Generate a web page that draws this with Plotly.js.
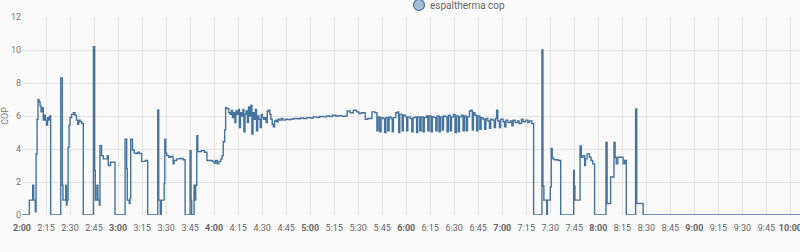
<!DOCTYPE html>
<html>
<head>
<meta charset="utf-8">
<script src="https://cdn.plot.ly/plotly-3.0.1.min.js"></script>
<style>
html,body{margin:0;padding:0;background:#fbfafb;}
#chart{width:800px;height:252px;}
</style>
</head>
<body>
<div id="chart"></div>
<script>
// minutes after 02:00 and COP value (step "hv")
const minutes = [
0,4.6,6.7,7.3,8.3,8.8,9.4,10.0,10.6,11.3,11.9,12.6,13.3,14.0,14.6,15.3,16.0,16.6,17.2,17.9,
24.2,25.2,25.6,27.3,27.8,28.2,28.8,29.4,30.0,31.0,32.1,33.1,34.0,34.8,35.4,36.3,37.3,38.3,
44.6,45.4,45.8,46.8,47.4,48.3,48.7,49.7,50.8,53.3,53.9,55.3,58.1,
64.4,65.4,65.8,67.0,67.5,67.9,69.0,70.1,71.2,72.2,73.3,74.7,77.0,78.5,
84.8,85.4,86.4,87.0,88.8,89.2,89.8,90.4,91.7,93.0,94.4,95.0,96.5,98.6,100.6,101.9,
105.0,105.6,106.0,107.5,108.0,108.5,109.2,109.8,112.0,114.0,115.5,119.0,120.0,121.0,122.0,123.0,124.2,125.0,125.7,126.6,127.2,
128.0,129.2,130,130.8,131.5,132.2,133,133.6,134.5,135.2,135.8,136.5,137.2,138,138.6,139.3,140,140.8,141.5,142.2,143,143.6,144.3,145,145.8,146.5,147.2,148,148.8,149.5,150.2,151,151.8,152.5,153.2,154,154.8,155.5,156.3,157,157.8,158.5,159.3,160,161,162,
163,164.5,166,168,170,172,174,176,178,180,182,184,186,188,190,192,194,196,198,200,202,203.1,205,207,209,210.5,212,214.4,216,218.6,220.5,
221.7,222.5,223.5,224.3,225.5,226.5,227.3,228.5,229.3,230.5,231.3,232,233.5,234.5,235.3,236,237.5,238.2,239.5,240.3,241,242.5,243.5,244.3,245.5,246.5,247.2,248.5,249.3,250.5,251.3,252.5,253.5,254.3,255.5,256.3,257.5,258.5,259.3,260.5,261.3,262.5,263.3,264.5,265.5,266.3,267.5,268.3,269.5,270.5,271.3,272.5,273.3,274.5,275.5,276.3,277.5,278.3,279.5,280.5,281.3,282,283,284,284.8,286,286.8,288,289,289.8,291,292,292.8,294,295,295.8,296.5,297.2,298.2,299,300.5,301.5,302.3,303.5,305,306,306.8,308,309.5,310.5,312,313,314.5,316,317,318.5,319.6,
324.8,325.4,326.0,327.8,328.2,330.0,330.6,331.2,331.6,332.5,335.0,336.5,
344.6,345.0,345.4,348.6,349.4,350.5,351.5,352.0,353.0,354.5,355.5,356.5,357.7,
364.8,365.5,367.7,369.8,370.5,371.2,372.2,374.5,375.5,376.5,377.5,
383.3,384.0,388.0,486
];
const cop = [
0,0.9,1.8,0.9,0.2,3.7,5.8,7.0,6.85,6.6,6.25,6.5,5.75,6.05,5.75,5.45,5.9,5.75,6.0,0,
8.3,1.8,0.9,1.8,0.6,0.9,4.1,5.45,5.9,6.1,6.2,6.05,5.75,5.5,5.75,5.65,5.55,0,
10.2,2.7,0.9,1.8,0.9,0.6,4.2,3.6,3.4,3.6,3.0,3.2,0,
4.6,2.8,0.9,0.7,1.0,4.6,3.94,3.75,3.73,3.8,3.73,3.25,3.3,0,
6.36,0.9,0.05,0.9,1.9,4.6,3.75,3.6,3.5,3.55,3.1,3.3,3.4,3.42,3.35,0,
3.9,0.9,0,1.8,0.9,1.8,4.8,3.84,3.9,3.8,3.3,3.25,3.15,3.3,3.1,3.25,3.4,3.6,4.44,5.15,6.5,
6.45,6.2,6.1,6.35,5.9,6.2,5.6,6.3,6.1,6.4,5.3,6.2,6.0,6.4,5.05,6.1,6.3,5.6,6.55,6.0,6.65,4.9,6.2,5.8,6.4,5.1,6.0,5.8,5.3,6.1,5.9,5.8,5.9,5.6,6.3,6.35,6.1,5.8,5.5,5.35,5.7,5.75,5.65,5.8,5.75,5.85,
5.75,5.8,5.78,5.82,5.85,5.83,5.88,5.85,5.9,5.88,5.95,5.92,5.97,5.95,6.0,5.97,6.05,6.0,6.02,5.98,6.0,6.3,6.2,6.35,6.25,6.15,6.2,5.8,5.85,6.25,6.2,
5.1,5.95,5.05,5.9,5.85,5.0,5.9,5.1,5.95,5.85,5.05,5.9,6.2,6.25,5.0,6.1,5.1,6.05,5.95,5.1,5.95,5.85,5.05,5.9,5.95,5.0,5.95,5.1,5.95,5.05,5.9,6.0,5.1,6.0,5.05,5.95,5.9,5.1,6.0,5.05,5.95,5.15,6.0,5.95,5.05,6.05,5.1,5.95,6.1,5.0,6.0,5.05,5.95,6.05,5.1,6.0,5.1,5.95,6.3,6.35,5.15,6.2,6.05,5.1,6.0,5.2,5.9,5.8,5.2,5.85,5.7,5.25,5.8,5.75,5.3,5.85,6.35,5.7,5.3,5.8,5.65,5.35,5.75,5.6,5.7,5.4,5.75,5.6,5.7,5.55,5.8,5.65,5.75,5.6,5.7,5.55,0,
10.0,1.76,0.9,0,0.9,1.7,4.04,3.5,3.4,3.35,3.3,0,
2.7,1.76,0.9,4.18,3.5,3.6,3.0,3.4,3.7,3.5,3.3,3.1,0,
4.4,0.7,2.3,4.4,3.5,3.1,3.5,3.5,3.1,3.3,0,
6.42,0.7,0,0
];
const tickMinutes = [0,15,30,45,60,75,90,105,120,135,150,165,180,195,210,225,240,255,270,285,300,315,330,345,360,375,390,405,420,435,450,465,480];
const tickLabels = ["2:00","2:15","2:30","2:45","3:00","3:15","3:30","3:45","4:00","4:15","4:30","4:45","5:00","5:15","5:30","5:45","6:00","6:15","6:30","6:45","7:00","7:15","7:30","7:45","8:00","8:15","8:30","8:45","9:00","9:15","9:30","9:45","10:00"];
const yTicks = [0,2,4,6,8,10,12];
const seriesName = "espaltherma cop";

const base = Date.UTC(2024,0,1,2,0,0);
function toDate(m){
  const d = new Date(base + m*60000);
  const p = n => String(n).padStart(2,'0');
  return `2024-01-01 ${p(d.getUTCHours())}:${p(d.getUTCMinutes())}:${p(d.getUTCSeconds())}`;
}
const xs = minutes.map(toDate);
const tv = tickMinutes.map(toDate);
const tt = tickLabels.map(s => s.endsWith(":00") ? "<b>"+s+"</b>" : s);

const lineColor = "#44739e";
const traces = [
  {x: xs, y: cop, type: 'scatter', mode: 'lines', name: seriesName, line: {shape: 'hv', color: lineColor, width: 1.4}, showlegend: false, hoverinfo: 'skip'}
];
// legend drawn as marker shape + text annotation (so it doesn't push the plot area)
const legX = 0.5103, legY = 1.0606;
const layout = {
  width: 800, height: 252,
  margin: {l: 22, r: 0, t: 17, b: 37, autoexpand: false},
  paper_bgcolor: '#fbfafb', plot_bgcolor: '#fbfafb',
  font: {family: 'Roboto, sans-serif', size: 9, color: '#777'},
  showlegend: false,
  shapes: [{type: 'circle', xref: 'paper', yref: 'paper', xsizemode: 'pixel', ysizemode: 'pixel',
    xanchor: legX, yanchor: legY, x0: -5.5, x1: 5.5, y0: -5.5, y1: 5.5,
    fillcolor: 'rgba(68,115,158,0.45)', line: {color: lineColor, width: 1.2}}],
  annotations: [{xref: 'paper', yref: 'paper', x: 0.5219, y: legY, xanchor: 'left', yanchor: 'middle',
    text: seriesName, showarrow: false, font: {size: 10, color: '#666'}}],
  xaxis: {type: 'date', range: [toDate(0), toDate(486)], tickmode: 'array', tickvals: tv, ticktext: tt, automargin: false,
    showgrid: true, gridcolor: '#e4e4e4', gridwidth: 1, zeroline: false, showline: false, ticks: '', ticklabelstandoff: 6, ticklabeloverflow: 'allow',
    tickfont: {size: 9, color: '#666'}, fixedrange: true},
  yaxis: {range: [0, 12], tickmode: 'array', tickvals: yTicks, showgrid: true, gridcolor: '#e4e4e4', zeroline: false, showline: false, ticks: '', automargin: false,
    tickfont: {size: 9, color: '#777'}, title: {text: 'COP', font: {size: 9, color: '#777'}, standoff: 2}, fixedrange: true}
};
Plotly.newPlot('chart', traces, layout, {displayModeBar: false, staticPlot: true});
</script>
</body>
</html>
